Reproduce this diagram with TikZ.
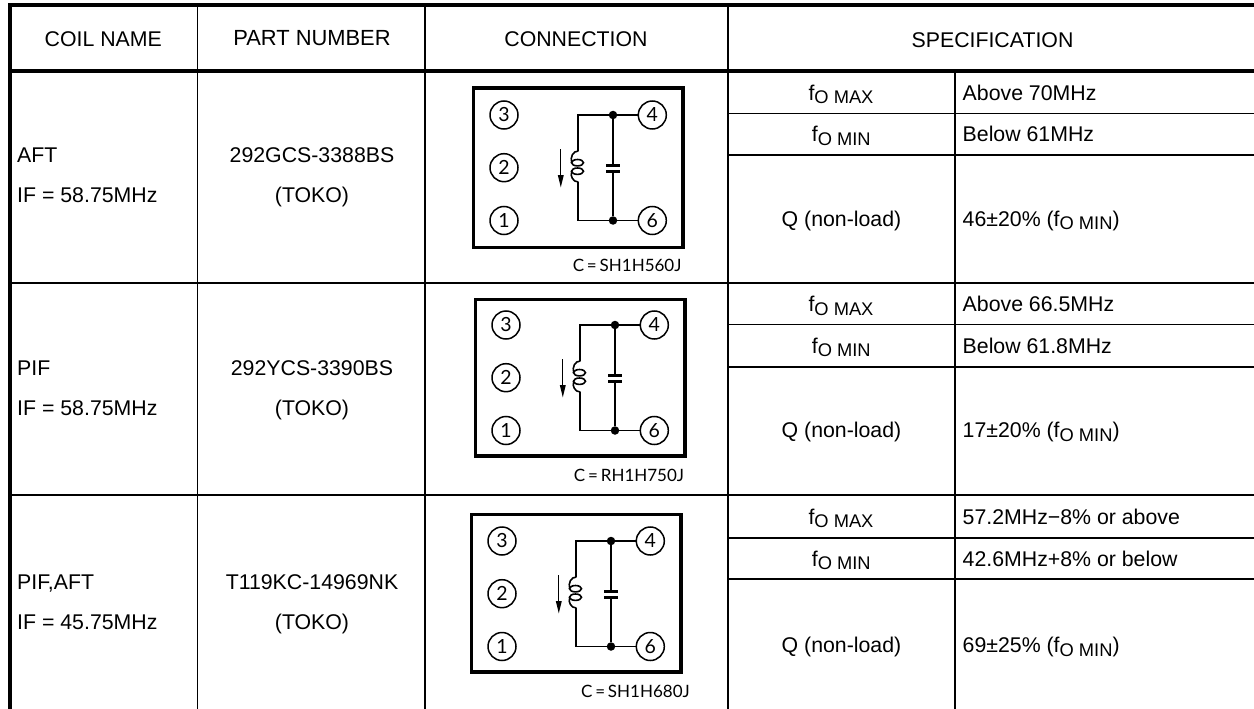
\documentclass[tikz,border=0pt]{standalone}
\usepackage{fontspec}
\setmainfont{Liberation Sans}
\newfontfamily\schemfont{Lato}

\newcommand{\fosub}[1]{f\raisebox{-3.5pt}{\fontsize{18.3}{20}\selectfont O #1}}

\tikzset{
  heavyrule/.style={line width=3.6pt},
  thinrule/.style={line width=1.8pt},
  celltext/.style={inner sep=0pt, font=\fontsize{21.3}{25}\selectfont},
  wire/.style={line width=1.7pt},
  coilline/.style={line width=1.6pt},
  pin/.style={circle, draw, line width=1.5pt, minimum size=28pt, inner sep=0pt,
    font=\schemfont\fontsize{19.5}{20}\selectfont},
  junction/.style={circle, fill, minimum size=8.5pt, inner sep=0pt},
  plate/.style={line width=3pt},
  caplabel/.style={inner sep=0pt, font=\schemfont\fontsize{17}{20}\selectfont}
}

\begin{document}
\begin{tikzpicture}[x=1pt, y=-1pt]
  \useasboundingbox (0,0) rectangle (1254,709);
  \fill[white] (0,0) rectangle (1254,709);

  % table rules
  \draw[heavyrule] (8,5) -- (1254,5);
  \draw[heavyrule] (10,3.2) -- (10,709);
  \draw[heavyrule] (8,71) -- (1254,71);
  \foreach \x in {197.5,425,728}{
    \draw[thinrule] (\x,5) -- (\x,709);
  }
  \draw[thinrule] (955,71) -- (955,709);
  \foreach \y in {283,495}{
    \draw[thinrule] (10,\y) -- (1254,\y);
  }
  \foreach \y in {113.5,155,324.5,366.7,537.7,579.3}{
    \draw[thinrule] (728,\y) -- (1254,\y);
  }

  % header
  \node[celltext, anchor=base] (headcoil) at (103.3,47) {COIL NAME};
  \node[celltext, anchor=base] (headpart) at (312,45.5) {\fontsize{21.9}{25}\selectfont PART NUMBER};
  \node[celltext, anchor=base] (headconn) at (576,47) {CONNECTION};
  \node[celltext, anchor=base] (headspec) at (992.5,47.3) {SPECIFICATION};

  % rows
  \foreach \n/\dy/\coil/\freq/\part in {
    1/0/AFT/58.75/292GCS-3388BS,
    2/213/PIF/58.75/292YCS-3390BS,
    3/426.3/{PIF,AFT}/45.75/T119KC-14969NK}{
    \node[celltext, anchor=base west] (coil\n) at (17,162.7+\dy) {\coil};
    \node[celltext, anchor=base west] (freq\n) at (17,202.7+\dy) {IF = \freq MHz};
    \node[celltext, anchor=base] (part\n) at (312,162.7+\dy) {\part};
    \node[celltext, anchor=base] (toko\n) at (312,202.7+\dy) {(TOKO)};
  }

  % specification
  \foreach \n/\ya/\yb/\yc/\vmax/\vmin/\vq in {
    1/100/141.7/226/Above 70MHz/Below 61MHz/46±20\%,
    2/311.7/353.3/437.7/Above 66.5MHz/Below 61.8MHz/17±20\%,
    3/524/566/652.7/57.2MHz−8\% or above/42.6MHz+8\% or below/69±25\%}{
    \node[celltext, anchor=base] (fmax\n) at (841,\ya) {\fosub{MAX}};
    \node[celltext, anchor=base] (fmin\n) at (841.3,\yb) {\fosub{MIN}};
    \node[celltext, anchor=base] (qname\n) at (841.5,\yc) {Q (non-load)};
    \node[celltext, anchor=base west] (vmax\n) at (962.5,\ya) {\vmax};
    \node[celltext, anchor=base west] (vmin\n) at (962.5,\yb) {\vmin};
    \node[celltext, anchor=base west] (vq\n) at (962.5,\yc) {\vq{} (\fosub{MIN})};
  }

  % connection diagrams
  \foreach \n/\dx/\dy/\boxtop/\boxbot/\capx/\capname in {
    1/0/0/88/247.7/681.7/SH1H560J,
    2/2/210/89.3/246/682.3/RH1H750J,
    3/-2/426/88.3/246/692/SH1H680J}{
    \begin{scope}[shift={(\dx,\dy)}]
      \draw[line width=3.2pt] (473.7,\boxtop) rectangle (683,\boxbot);
      \node[pin] (pinc\n) at (504,115) {3};
      \node[pin] (pinb\n) at (504,167.7) {2};
      \node[pin] (pina\n) at (504,220.5) {1};
      \node[pin] (pind\n) at (652.3,115) {4};
      \node[pin] (pinf\n) at (652.3,220.5) {6};
      \node[junction] (jtop\n) at (613,115) {};
      \node[junction] (jbot\n) at (613,220.5) {};
      \coordinate (ltop\n) at (578.3,115);
      \coordinate (lbot\n) at (578.3,220.5);
      \coordinate (coila\n) at (578.3,151);
      \coordinate (coilb\n) at (578.3,182);
      \coordinate (capa\n) at (613,165);
      \coordinate (capb\n) at (613,171.7);
      \draw[wire] (pind\n) -- (jtop\n) -- (ltop\n) -- (coila\n);
      \draw[wire] (pinf\n) -- (jbot\n) -- (lbot\n) -- (coilb\n);
      \draw[wire] (jtop\n) -- (capa\n);
      \draw[wire] (jbot\n) -- (capb\n);
      \draw[plate] ([xshift=-7pt]capa\n) -- ([xshift=7pt]capa\n);
      \draw[plate] ([xshift=-7pt]capb\n) -- ([xshift=7pt]capb\n);
      % coil
      \draw[coilline] (coila\n) .. controls (573,151) and (570,157) .. (571.7,162.7);
      \draw[coilline] (coilb\n) .. controls (573,182) and (570,176) .. (571.7,171.7);
      \draw[coilline] (577.5,162.7) ellipse (6pt and 3.2pt);
      \draw[coilline] (577.5,171.2) ellipse (6pt and 3.2pt);
      % adjustment arrow
      \coordinate (arra\n) at (560.8,149);
      \coordinate (arrb\n) at (560.8,176);
      \draw[line width=1.3pt] (arra\n) -- (arrb\n);
      \fill (557.8,175) -- (563.8,175) -- (560.8,187.3) -- cycle;
      \node[caplabel, anchor=base east] (capname\n) at (\capx,271.5) {C\,=\,\capname};
    \end{scope}
  }
\end{tikzpicture}
\end{document}
